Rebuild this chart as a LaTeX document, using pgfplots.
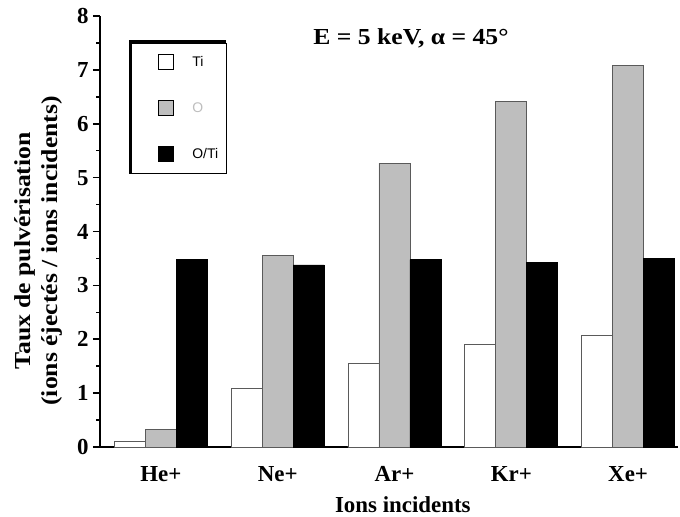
\documentclass[border=0pt]{standalone}
\usepackage{pgfplots}
\pgfplotsset{compat=1.18}
\usepackage{fontspec}
\setmainfont{Liberation Serif}
\newfontfamily\arial{Liberation Sans}
\newfontfamily\widefont{Liberation Serif}[FakeStretch=1.12]
\definecolor{barGray}{RGB}{190,190,190}
\definecolor{edgeGray}{RGB}{90,90,90}
\begin{document}
\begin{tikzpicture}
\begin{axis}[
  scale only axis,
  width=578bp, height=431bp,
  xmin=-0.521, xmax=4.427,
  ymin=0, ymax=8,
  ytick={0,1,...,8},
  minor y tick num=1,
  xtick=data,
  xticklabels={He+,Ne+,Ar+,Kr+,Xe+},
  axis x line=bottom, axis y line=left,
  axis line style={-, line width=2.4bp, black},
  x tick style={draw=none},
  y tick style={line width=1.6bp, black},
  tick align=outside,
  major tick length=7bp,
  minor tick length=3.5bp,
  /pgf/number format/assume math mode=true,
  ticklabel style={font=\fontsize{23}{27}\selectfont\bfseries},
  xticklabel style={yshift=-9bp},
  yticklabel style={xshift=-1bp},
  ybar=0pt, bar width=31bp,
  every axis plot post/.append style={legend image code/.code={\path[draw=none, fill=none] (-26bp,-11bp) -- (0bp,11bp); \draw[fill=\pgfkeysvalueof{/pgfplots/myfill}, draw=black, line width=0.7bp] (0bp,-7bp) rectangle (15bp,8bp);}},
  xlabel={Ions incidents},
  xlabel style={font=\fontsize{23}{27}\selectfont\bfseries, at={(axis description cs:0.524,-0.134)}, anchor=center},
  ylabel={Taux de pulvérisation\\(ions éjectés / ions incidents)},
  ylabel style={font=\fontsize{23}{27}\selectfont\widefont\bfseries, align=center, at={(axis description cs:-0.107,0.455)}, anchor=center, rotate=0},
  legend cell align=left,
  legend style={at={(axis description cs:0.055,0.937)}, anchor=north west,
    draw=none, name=leg,
    font=\fontsize{14}{16}\selectfont\arial,
    inner xsep=0bp, inner ysep=8bp,
    row sep=24bp, column sep=19bp,
    nodes={inner sep=0pt, text height=10bp, text depth=2bp}},
  myfill/.initial=white,
]
\addplot[fill=white, draw=edgeGray, line width=0.8bp, myfill=white] coordinates {(0,0.11) (1,1.08) (2,1.55) (3,1.91) (4,2.07)};
\addlegendentry{Ti}
\addplot[fill=barGray, draw=edgeGray, line width=0.8bp, myfill=barGray] coordinates {(0,0.32) (1,3.55) (2,5.27) (3,6.42) (4,7.09)};
\addlegendentry{\textcolor{barGray}{O}}
\addplot[fill=black, draw=black, line width=0.8bp, myfill=black] coordinates {(0,3.48) (1,3.38) (2,3.48) (3,3.42) (4,3.50)};
\addlegendentry{O/Ti}
\node[font=\fontsize{23}{27}\selectfont\widefont\bfseries, anchor=center] at (axis description cs:0.538,0.949) {E = 5 keV, α = 45°};
\end{axis}
\draw[line width=0.8bp] (leg.south west) rectangle ([xshift=8bp]leg.north east);
\draw[line width=3bp] ([xshift=-1.5bp]leg.south west) -- ([xshift=-1.5bp, yshift=1.5bp]leg.north west) -- ([xshift=8bp, yshift=1.5bp]leg.north east);
\pgfresetboundingbox
\path (-100bp,-70bp) rectangle (580bp,447bp);
\end{tikzpicture}
\end{document}
